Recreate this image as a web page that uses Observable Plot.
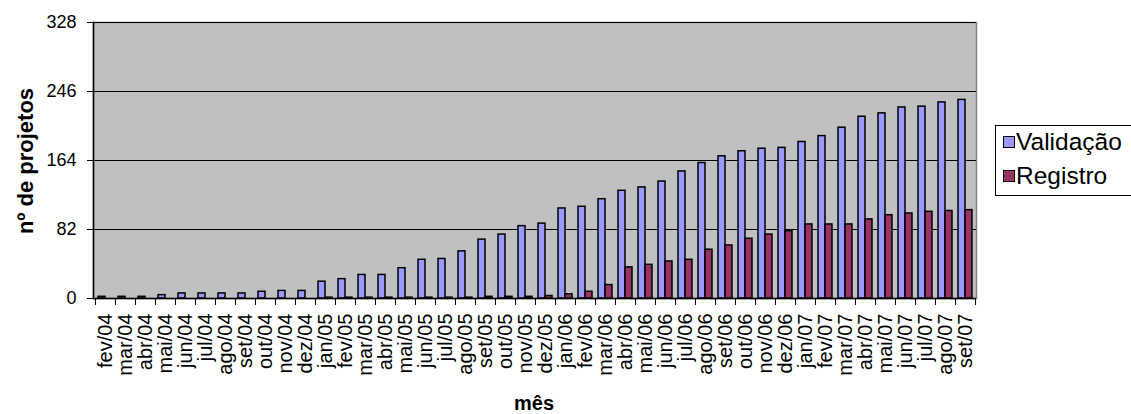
<!DOCTYPE html>
<html>
<head>
<meta charset="utf-8">
<script src="https://cdn.jsdelivr.net/npm/d3@7"></script>
<script src="https://cdn.jsdelivr.net/npm/@observablehq/plot@0.6"></script>
<style>
  html, body { margin: 0; padding: 0; background: #fff; }
  #wrap { position: relative; width: 1131px; height: 414px; overflow: hidden; font-family: Arial, "Liberation Sans", sans-serif; }
  #legend { position: absolute; left: 995px; top: 125px; width: 150px; height: 71px; border: 1px solid #000; box-sizing: border-box; background: #fff; }
  .item { position: absolute; left: 7px; display: flex; align-items: center; font-size: 24.5px; color: #000; }
  .sw { width: 10px; height: 10px; border: 1px solid #000; margin-right: 1px; }
  #ylab { position: absolute; left: 26px; top: 161px; transform: translate(-50%, -50%) rotate(-90deg); font-weight: bold; font-size: 22px; white-space: nowrap; }
  #xlab { position: absolute; left: 534px; top: 403px; transform: translate(-50%, -50%); font-weight: bold; font-size: 20px; }
</style>
</head>
<body>
<div id="wrap">
  <div id="chart"></div>
  <div id="ylab">nº de projetos</div>
  <div id="xlab">mês</div>
  <div id="legend"></div>
</div>
<script>
const months = ["fev/04","mar/04","abr/04","mai/04","jun/04","jul/04","ago/04","set/04","out/04","nov/04","dez/04",
  "jan/05","fev/05","mar/05","abr/05","mai/05","jun/05","jul/05","ago/05","set/05","out/05","nov/05","dez/05",
  "jan/06","fev/06","mar/06","abr/06","mai/06","jun/06","jul/06","ago/06","set/06","out/06","nov/06","dez/06",
  "jan/07","fev/07","mar/07","abr/07","mai/07","jun/07","jul/07","ago/07","set/07"];
const validacao = [2,2,2,4,6,6,6,6,8,9,9,
  20,23,28,28,36,46,47,56,70,76,86,89,
  107,109,118,128,132,139,151,161,169,175,178,179,
  186,193,203,216,220,227,228,233,236];
const registro = [0,0,0,0,0,0,0,0,0,0,0,
  1,1,1,1,1,1,1,1,2,2,2,3,
  5,8,16,37,40,44,46,58,63,71,76,80,
  88,88,88,94,99,101,103,104,105];
const yTicks = [0,82,164,246,328];
const seriesNames = ["Validação","Registro"];
const seriesColors = ["#9999ff","#993366"];

const data = months.map((m,i) => ({month: m, validacao: validacao[i], registro: registro[i]}));

const W = 1131, H = 414, mL = 93, mR = 155, mT = 22, mB = 116;
const bw = (W - mL - mR) / months.length;

const font = 'Arial, "Liberation Sans", sans-serif';

const chart = Plot.plot({
  width: W, height: H,
  marginLeft: mL, marginRight: mR, marginTop: mT, marginBottom: mB,
  style: {fontFamily: font, fontSize: "18px", color: "#000", background: "transparent"},
  x: {domain: months, paddingInner: 0, paddingOuter: 0, axis: null},
  y: {domain: [0, 328], axis: null},
  marks: [
    Plot.frame({fill: "#c0c0c0", stroke: "#808080", strokeWidth: 1.5}),
    Plot.gridY(yTicks, {stroke: "#000", strokeOpacity: 1, strokeWidth: 1}),
    Plot.barY(data, {x: "month", y: "validacao", fill: seriesColors[0], stroke: "#000", strokeWidth: 1.5, insetLeft: 3, insetRight: 10}),
    Plot.barY(data, {x: "month", y: "registro", fill: seriesColors[1], stroke: "#000", strokeWidth: 1.5, insetLeft: 10, insetRight: 3}),
    Plot.ruleY([0], {stroke: "#000", strokeWidth: 1.5}),
    Plot.frame({anchor: "left", stroke: "#000", strokeWidth: 1.5}),
    Plot.axisY(yTicks, {tickSize: 6, tickPadding: 11, fontSize: 18, stroke: "#000", label: null}),
    Plot.axisX(months, {tickSize: 7, tickFormat: () => "", dx: -bw / 2, stroke: "#000", label: null}),
    Plot.axisX([months[months.length - 1]], {tickSize: 7, tickFormat: () => "", dx: bw / 2, stroke: "#000", label: null}),
    Plot.axisX(months, {tickSize: 0, tickPadding: 15, tickRotate: -90, fontSize: 20, label: null})
  ]
});
document.getElementById("chart").appendChild(chart);

const legend = document.getElementById("legend");
seriesNames.forEach((name, i) => {
  const it = document.createElement("div");
  it.className = "item";
  it.style.top = (i === 0 ? 2 : 36) + "px";
  const sw = document.createElement("div");
  sw.className = "sw";
  sw.style.background = seriesColors[i];
  const tx = document.createElement("span");
  tx.textContent = name;
  it.appendChild(sw); it.appendChild(tx);
  legend.appendChild(it);
});
</script>
</body>
</html>
